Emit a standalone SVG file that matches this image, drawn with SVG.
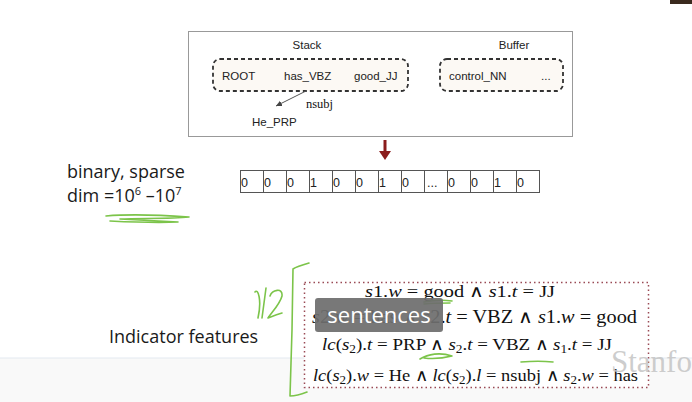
<svg xmlns="http://www.w3.org/2000/svg" width="692" height="402" viewBox="0 0 692 402">
<defs>
<style>
.sans{font-family:"Liberation Sans",Arial,sans-serif;fill:#222}
.lbl{font-size:11.5px}
.big{font-family:"Open Sans","Liberation Sans",sans-serif;font-size:18px;fill:#1a1a1a}
.math{font-family:"Liberation Serif","Times New Roman",serif;fill:#111}
.it{font-style:italic}
.cell{fill:#fff;stroke:#555;stroke-width:1}
.ctext{font-family:"Liberation Sans",Arial,sans-serif;font-size:12.5px;fill:#222}
.green{fill:none;stroke:#7cc44a;stroke-width:1.6;stroke-linecap:round;stroke-linejoin:round}
</style>
<marker id="ah" markerWidth="8" markerHeight="8" refX="6" refY="4" orient="auto" markerUnits="userSpaceOnUse">
<path d="M0,1 L6,4 L0,7 Z" fill="#444"/>
</marker>
</defs>
<rect width="692" height="402" fill="#fff"/>
<rect x="0" y="358" width="692" height="44" fill="#f9f9f9"/>
<line x1="0" y1="358" x2="692" y2="358" stroke="#e3e9f0" stroke-width="1"/>
<rect x="670" y="0" width="22" height="4" fill="#3a2a1e"/>

<g id="config">
<rect x="188.5" y="31.5" width="384" height="105" fill="#fff" stroke="#999"/>
<text class="sans lbl" x="307" y="49" text-anchor="middle">Stack</text>
<text class="sans lbl" x="514" y="49" text-anchor="middle">Buffer</text>
</g>
<g id="stack">
<rect x="213" y="59" width="195" height="32" rx="7" fill="#fcf9f4" stroke="#333" stroke-width="1.8" stroke-dasharray="4,3"/>
<text class="sans lbl" x="222" y="80">ROOT</text>
<text class="sans lbl" x="284" y="80">has_VBZ</text>
<text class="sans lbl" x="354" y="80">good_JJ</text>
</g>
<g id="buffer">
<rect x="440" y="59" width="123" height="32" rx="7" fill="#fcf9f4" stroke="#333" stroke-width="1.8" stroke-dasharray="4,3"/>
<text class="sans lbl" x="449" y="80">control_NN</text>
<text class="sans lbl" x="541" y="80">...</text>
</g>
<g id="he_prp">
<text class="sans lbl" x="252" y="126">He_PRP</text>
</g>
<g id="connectors">
<line x1="306" y1="91" x2="276" y2="106" stroke="#555" stroke-width="1" marker-end="url(#ah)"/>
<text class="math" x="306" y="108" font-size="12.5">nsubj</text>
<line x1="385" y1="140" x2="385" y2="152" stroke="#8b1c1c" stroke-width="3"/>
<path d="M379,151 L391,151 L385,160 Z" fill="#8b1c1c"/>
</g>

<g id="vector">
<rect class="cell" x="240.5" y="170.5" width="299" height="22"/>
<g stroke="#555">
<line x1="263.5" y1="170.5" x2="263.5" y2="192.5"/>
<line x1="286.5" y1="170.5" x2="286.5" y2="192.5"/>
<line x1="309.5" y1="170.5" x2="309.5" y2="192.5"/>
<line x1="332.5" y1="170.5" x2="332.5" y2="192.5"/>
<line x1="355.5" y1="170.5" x2="355.5" y2="192.5"/>
<line x1="378.5" y1="170.5" x2="378.5" y2="192.5"/>
<line x1="401.5" y1="170.5" x2="401.5" y2="192.5"/>
<line x1="424.5" y1="170.5" x2="424.5" y2="192.5"/>
<line x1="447.5" y1="170.5" x2="447.5" y2="192.5"/>
<line x1="470.5" y1="170.5" x2="470.5" y2="192.5"/>
<line x1="493.5" y1="170.5" x2="493.5" y2="192.5"/>
<line x1="516.5" y1="170.5" x2="516.5" y2="192.5"/>
</g>
<text class="ctext" y="187"><tspan x="241">0</tspan><tspan x="264">0</tspan><tspan x="287">0</tspan><tspan x="310">1</tspan><tspan x="333">0</tspan><tspan x="356">0</tspan><tspan x="379">1</tspan><tspan x="402">0</tspan><tspan x="427">...</tspan><tspan x="448">0</tspan><tspan x="471">0</tspan><tspan x="494">1</tspan><tspan x="517">0</tspan></text>
</g>

<g id="desc">
<text class="big" x="67" y="178">binary, sparse</text>
<text class="big" x="67" y="202">dim =10<tspan font-size="11" dy="-7">6</tspan><tspan dy="7"> –10</tspan><tspan font-size="11" dy="-7">7</tspan></text>
<path class="green" d="M106,216 C130,214 160,215 189,217 C170,219 140,218 120,219 C140,220 160,221 178,222 C160,223 130,222 110,221"/>
</g>

<g id="indicator">
<text class="big" x="109" y="343">Indicator features</text>
<path class="green" d="M309,263 C302,265 296,267 293,269 L292,330 L290,396 C296,396 302,394 307,392"/>
<path class="green" d="M255,292 C258,288 262,300 258,318 M270,296 C272,290 283,287 282,296 C280,304 272,312 268,318 C273,316 278,314 282,313 M266,288 L262,318"/>
</g>

<g id="features">
<rect x="304.5" y="282.5" width="344" height="105" fill="#fff" stroke="#9a4a55" stroke-width="1.5" stroke-dasharray="1.5,3"/>
<text class="math" font-size="17" x="365" y="297" textLength="190" lengthAdjust="spacingAndGlyphs"><tspan class="it">s</tspan>1.<tspan class="it">w</tspan> = good ∧ <tspan class="it">s</tspan>1.<tspan class="it">t</tspan> = JJ</text>
<text class="math" font-size="18" x="312" y="323" textLength="325" lengthAdjust="spacingAndGlyphs"><tspan class="it">s</tspan>2.<tspan class="it">w</tspan> = has ∧ <tspan class="it">s</tspan>2.<tspan class="it">t</tspan> = VBZ ∧ <tspan class="it">s</tspan>1.<tspan class="it">w</tspan> = good</text>
<text class="math" font-size="17" x="322" y="350" textLength="290" lengthAdjust="spacingAndGlyphs"><tspan class="it">lc</tspan>(<tspan class="it">s</tspan><tspan font-size="12" dy="3">2</tspan><tspan dy="-3">).</tspan><tspan class="it">t</tspan> = PRP ∧ <tspan class="it">s</tspan><tspan font-size="12" dy="3">2</tspan><tspan dy="-3">.</tspan><tspan class="it">t</tspan> = VBZ ∧ <tspan class="it">s</tspan><tspan font-size="12" dy="3">1</tspan><tspan dy="-3">.</tspan><tspan class="it">t</tspan> = JJ</text>
<text class="math" font-size="17" x="313" y="381" textLength="325" lengthAdjust="spacingAndGlyphs"><tspan class="it">lc</tspan>(<tspan class="it">s</tspan><tspan font-size="12" dy="3">2</tspan><tspan dy="-3">).</tspan><tspan class="it">w</tspan> = He ∧ <tspan class="it">lc</tspan>(<tspan class="it">s</tspan><tspan font-size="12" dy="3">2</tspan><tspan dy="-3">).</tspan><tspan class="it">l</tspan> = nsubj ∧ <tspan class="it">s</tspan><tspan font-size="12" dy="3">2</tspan><tspan dy="-3">.</tspan><tspan class="it">w</tspan> = has</text>
<path class="green" d="M424,302 C434,300 445,300 452,301 M424,304 C434,303 444,303 450,303"/>
<path class="green" d="M420,359 C428,354 440,352 452,356 C444,358 432,359 424,358"/>
<path class="green" d="M521,362 C532,361 544,361 553,362"/>
</g>

<text x="611" y="372" font-family="Liberation Serif,serif" font-size="31" fill="#c4c4c4" fill-opacity="0.85">Stanfo</text>

<g id="subtitle">
<rect x="315" y="298" width="128" height="34" rx="3" fill="#6e6e6e" fill-opacity="0.93"/>
<text x="379" y="323" text-anchor="middle" font-family="'Open Sans','Liberation Sans',sans-serif" font-size="22" fill="#fff">sentences</text>
</g>
</svg>
